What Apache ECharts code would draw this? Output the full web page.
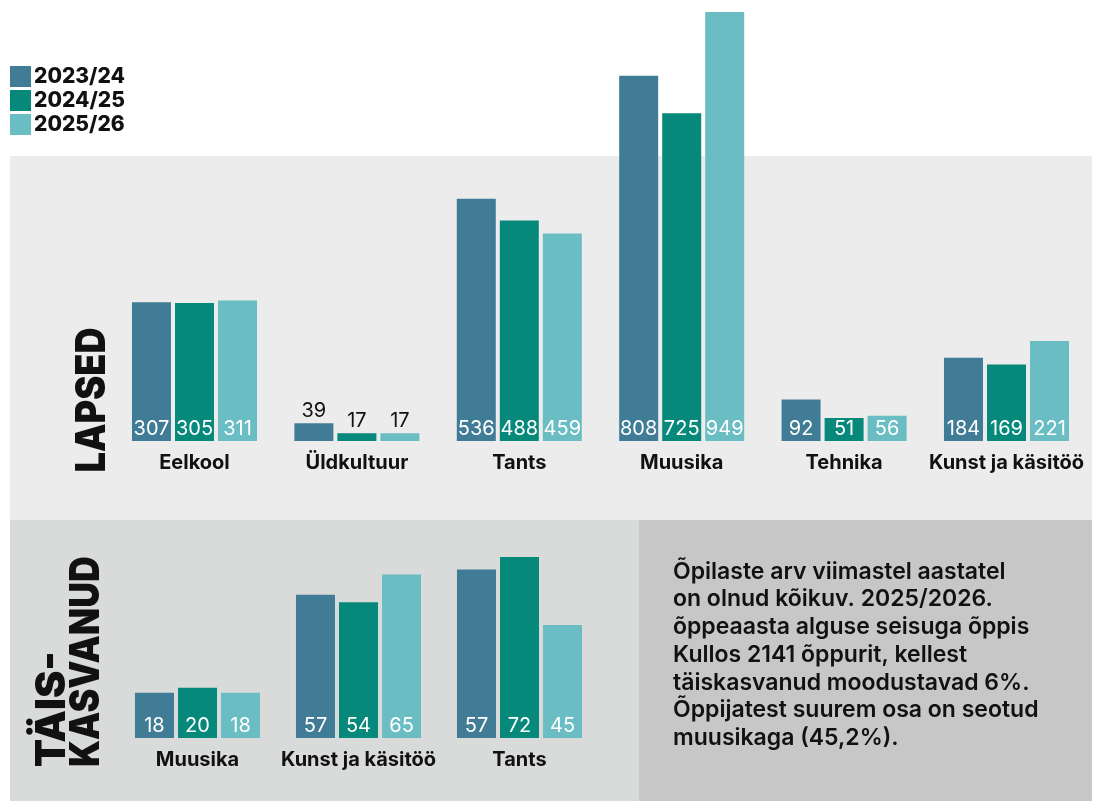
<!DOCTYPE html>
<html>
<head>
<meta charset="utf-8">
<script src="https://cdn.jsdelivr.net/npm/echarts@6/dist/echarts.min.js"></script>
<style>
  html, body { margin: 0; padding: 0; background: #fff; }
  #chart { width: 1098px; height: 801px; }
</style>
</head>
<body>
<div id="chart"></div>
<script>
// --- data ---
const years = ['2023/24', '2024/25', '2025/26'];

const kidsCategories = ['Eelkool', 'Üldkultuur', 'Tants', 'Muusika', 'Tehnika', 'Kunst ja käsitöö'];
const kids2324 = [307, 39, 536, 808, 92, 184];
const kids2425 = [305, 17, 488, 725, 51, 169];
const kids2526 = [311, 17, 459, 949, 56, 221];

const adultCategories = ['Muusika', 'Kunst ja käsitöö', 'Tants'];
// the Tants 2023/24 bar is drawn at ~67 in the source, but printed as 57
const adults2324 = [18, 57, 67];
const adults2324Printed = [18, 57, 57];
const adults2425 = [20, 54, 72];
const adults2526 = [18, 65, 45];

const noteLines = [
  'Õpilaste arv viimastel aastatel',
  'on olnud kõikuv. 2025/2026.',
  'õppeaasta alguse seisuga õppis',
  'Kullos 2141 õppurit, kellest',
  'täiskasvanud moodustavad 6%.',
  'Õppijatest suurem osa on seotud',
  'muusikaga (45,2%).'
];

const FONT = 'Inter, "Open Sans", sans-serif';
const colors = ['#407c96', '#06897a', '#6abdc3'];

const chart = echarts.init(document.getElementById('chart'));

// small bars get their number above the bar instead of inside
function barItems(values, minInside) {
  return values.map(v => v < minInside
    ? {value: v, label: {position: 'top', color: '#111', distance: 2}}
    : v);
}

function makeSeries(name, values, idx, grid, minInside, printed) {
  return {
    name: name,
    type: 'bar',
    xAxisIndex: grid,
    yAxisIndex: grid,
    barWidth: 39,
    barGap: '10.3%',
    itemStyle: {color: colors[idx]},
    label: {
      show: true,
      position: 'insideBottom',
      distance: 2,
      color: '#fff',
      fontSize: 20,
      fontFamily: FONT,
      formatter: printed ? (p => printed[p.dataIndex]) : '{c}'
    },
    emphasis: {disabled: true},
    data: barItems(values, minInside)
  };
}

const catLabel = {
  interval: 0,
  fontSize: 20,
  fontWeight: 'bold',
  color: '#111',
  fontFamily: FONT,
  margin: 12
};

const option = {
  animation: false,
  color: colors,
  legend: {
    orient: 'vertical',
    left: 10,
    top: 66,
    padding: 0,
    itemWidth: 21,
    itemHeight: 21,
    itemGap: 3,
    icon: 'rect',
    selectedMode: false,
    data: years,
    textStyle: {fontSize: 21, fontWeight: 800, color: '#111', fontFamily: FONT, padding: [0, 0, 0, -2]}
  },
  grid: [
    {left: 113.3, right: 10.3, top: 12, bottom: 360},
    {left: 117, width: 483, top: 557, bottom: 63}
  ],
  xAxis: [
    {type: 'category', gridIndex: 0, data: kidsCategories,
     axisLine: {show: false}, axisTick: {show: false}, axisLabel: catLabel},
    {type: 'category', gridIndex: 1, data: adultCategories,
     axisLine: {show: false}, axisTick: {show: false}, axisLabel: catLabel}
  ],
  yAxis: [
    {type: 'value', gridIndex: 0, min: 0, max: 'dataMax', show: false, splitLine: {show: false}},
    {type: 'value', gridIndex: 1, min: 0, max: 'dataMax', show: false, splitLine: {show: false}}
  ],
  graphic: [
    {type: 'rect', z: -10, silent: true, shape: {x: 10, y: 156, width: 1082, height: 364}, style: {fill: '#ececec'}},
    {type: 'rect', z: -10, silent: true, shape: {x: 10, y: 520, width: 629, height: 281}, style: {fill: '#d9dbda'}},
    {type: 'rect', z: -10, silent: true, shape: {x: 639, y: 520, width: 453, height: 281}, style: {fill: '#c6c7c6'}},
    {type: 'text', x: 93, y: 400, rotation: Math.PI / 2, scaleX: 0.88, silent: true,
     style: {text: 'LAPSED', fill: '#111', font: '900 41px ' + FONT, textAlign: 'center', textVerticalAlign: 'middle'}},
    {type: 'text', x: 53, y: 767, rotation: Math.PI / 2, silent: true,
     style: {text: 'TÄIS-', fill: '#111', font: '900 41px ' + FONT, textAlign: 'left', textVerticalAlign: 'middle'}},
    {type: 'text', x: 87, y: 767, rotation: Math.PI / 2, scaleX: 0.87, silent: true,
     style: {text: 'KASVANUD', fill: '#111', font: '900 41px ' + FONT, textAlign: 'left', textVerticalAlign: 'middle'}},
    {type: 'text', x: 673, y: 558, silent: true,
     style: {text: noteLines.join('\n'), fill: '#111', font: '600 23px ' + FONT, lineHeight: 27.7, textAlign: 'left', textVerticalAlign: 'top'}}
  ],
  series: [
    makeSeries(years[0], kids2324, 0, 0, 45),
    makeSeries(years[1], kids2425, 1, 0, 45),
    makeSeries(years[2], kids2526, 2, 0, 45),
    makeSeries(years[0], adults2324, 0, 1, 10, adults2324Printed),
    makeSeries(years[1], adults2425, 1, 1, 10),
    makeSeries(years[2], adults2526, 2, 1, 10)
  ]
};

chart.setOption(option);
</script>
</body>
</html>
